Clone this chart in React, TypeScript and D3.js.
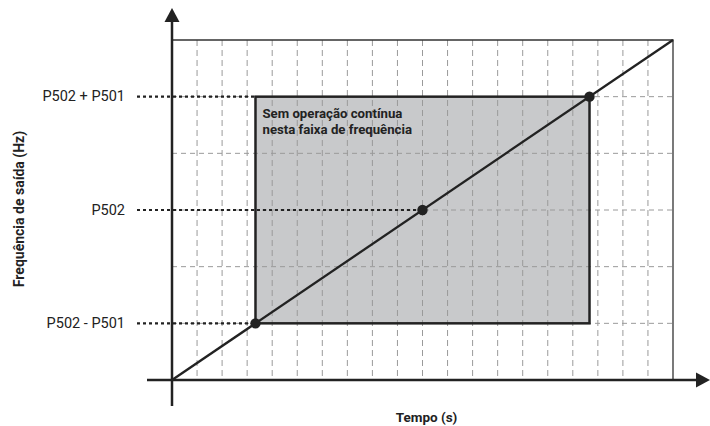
import React, { useEffect, useRef } from "react";
import * as d3 from "d3";

// time in grid columns, frequency in grid rows
const timeTicks = d3.range(1, 20);
const freqTicks = [1, 2, 3, 4, 5];
const freqLabels = [
  { value: 5, label: "P502 + P501", stopAt: 3.333 },
  { value: 3, label: "P502", stopAt: 10 },
  { value: 1, label: "P502 - P501", stopAt: 3.333 },
];
const rampLine: [number, number][] = [
  [0, 0],
  [20, 6],
];
const rampPoints: [number, number][] = [
  [3.333, 1],
  [10, 3],
  [16.667, 5],
];
const band = { x0: 3.333, x1: 16.667, y0: 1, y1: 5 };
const bandText = ["Sem operação contínua", "nesta faixa de frequência"];

const App: React.FC = () => {
  const svgRef = useRef<SVGSVGElement>(null);

  useEffect(() => {
    if (!svgRef.current) return;
    const svg = d3.select(svgRef.current);
    svg.selectAll("*").remove();

    const width = 710;
    const height = 426;
    const ink = "#222";
    const font = "Roboto, 'Noto Sans', sans-serif";
    svg.attr("width", width).attr("height", height);

    const x = d3.scaleLinear().domain([0, 20]).range([172, 673]);
    const y = d3.scaleLinear().domain([0, 6]).range([380, 40]);

    // band fill
    svg
      .append("rect")
      .attr("x", x(band.x0))
      .attr("y", y(band.y1))
      .attr("width", x(band.x1) - x(band.x0))
      .attr("height", y(band.y0) - y(band.y1))
      .attr("fill", "#c8c9cb");

    // grid
    svg
      .append("g")
      .selectAll("line")
      .data(timeTicks)
      .join("line")
      .attr("x1", (d) => x(d))
      .attr("x2", (d) => x(d))
      .attr("y1", y(6))
      .attr("y2", y(0))
      .attr("stroke", "#9a9a9a")
      .attr("stroke-width", 1)
      .attr("stroke-dasharray", "6,4");

    svg
      .append("g")
      .selectAll("line")
      .data(freqTicks)
      .join("line")
      .attr("x1", x(0))
      .attr("x2", x(20))
      .attr("y1", (d) => y(d))
      .attr("y2", (d) => y(d))
      .attr("stroke", "#9a9a9a")
      .attr("stroke-width", 1)
      .attr("stroke-dasharray", "5,4");

    // frame top and right
    svg
      .append("path")
      .attr("d", `M${x(0)},${y(6)}H${x(20)}V${y(0)}`)
      .attr("fill", "none")
      .attr("stroke", "#333")
      .attr("stroke-width", 1.3);

    // band outline
    svg
      .append("rect")
      .attr("x", x(band.x0))
      .attr("y", y(band.y1))
      .attr("width", x(band.x1) - x(band.x0))
      .attr("height", y(band.y0) - y(band.y1))
      .attr("fill", "none")
      .attr("stroke", ink)
      .attr("stroke-width", 2.5);

    // dotted reference lines + labels
    freqLabels.forEach((f) => {
      svg
        .append("line")
        .attr("x1", 137)
        .attr("x2", x(f.stopAt))
        .attr("y1", y(f.value))
        .attr("y2", y(f.value))
        .attr("stroke", ink)
        .attr("stroke-width", 2.2)
        .attr("stroke-dasharray", "3,3");
      svg
        .append("text")
        .attr("x", 125)
        .attr("y", y(f.value))
        .attr("text-anchor", "end")
        .attr("dominant-baseline", "central")
        .style("font-family", font)
        .style("font-size", "14.5px")
        .style("fill", ink)
        .text(f.label);
    });

    // axes
    svg
      .append("line")
      .attr("x1", x(0))
      .attr("x2", x(0))
      .attr("y1", y(0) + 26)
      .attr("y2", 18)
      .attr("stroke", ink)
      .attr("stroke-width", 2.5);
    svg
      .append("path")
      .attr("d", `M${x(0)},8L${x(0) - 7.5},22L${x(0) + 7.5},22Z`)
      .attr("fill", ink);
    svg
      .append("line")
      .attr("x1", 147)
      .attr("x2", 700)
      .attr("y1", y(0))
      .attr("y2", y(0))
      .attr("stroke", ink)
      .attr("stroke-width", 2.5);
    svg
      .append("path")
      .attr("d", `M710,${y(0)}L696,${y(0) - 7.5}L696,${y(0) + 7.5}Z`)
      .attr("fill", ink);

    // ramp
    const line = d3
      .line<[number, number]>()
      .x((d) => x(d[0]))
      .y((d) => y(d[1]));
    svg
      .append("path")
      .attr("d", line(rampLine) || "")
      .attr("fill", "none")
      .attr("stroke", ink)
      .attr("stroke-width", 2.3);

    svg
      .append("g")
      .selectAll("circle")
      .data(rampPoints)
      .join("circle")
      .attr("cx", (d) => x(d[0]))
      .attr("cy", (d) => y(d[1]))
      .attr("r", 5.2)
      .attr("fill", ink);

    // band text
    bandText.forEach((t, i) => {
      svg
        .append("text")
        .attr("x", x(band.x0) + 7)
        .attr("y", y(band.y1) + 21 + i * 16)
        .style("font-family", font)
        .style("font-size", "13.2px")
        .style("font-weight", "bold")
        .style("fill", ink)
        .text(t);
    });

    // axis titles
    svg
      .append("text")
      .attr("transform", `translate(19, ${y(3) - 1}) rotate(-90)`)
      .attr("text-anchor", "middle")
      .attr("dominant-baseline", "central")
      .style("font-family", font)
      .style("font-size", "14px")
      .style("font-weight", "bold")
      .style("fill", ink)
      .text("Frequência de saída (Hz)");

    svg
      .append("text")
      .attr("x", x(10) + 4)
      .attr("y", 417)
      .attr("text-anchor", "middle")
      .attr("dominant-baseline", "central")
      .style("font-family", font)
      .style("font-size", "13.5px")
      .style("font-weight", "bold")
      .style("fill", ink)
      .text("Tempo (s)");
  }, []);

  return (
    <div style={{ position: "absolute", left: 0, top: 0, background: "#fff" }}>
      <svg ref={svgRef} style={{ display: "block" }}></svg>
    </div>
  );
};

export default App;
